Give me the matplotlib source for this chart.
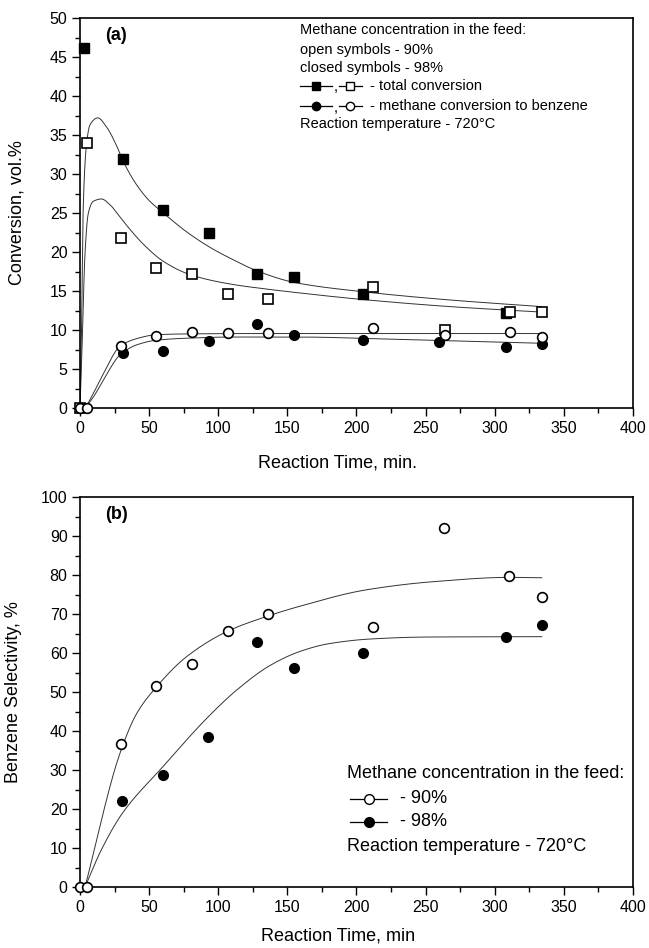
import numpy as np
import matplotlib
matplotlib.use("Agg")
import matplotlib.pyplot as plt
from matplotlib.ticker import MultipleLocator

plt.rcParams['font.family'] = ['Liberation Sans', 'DejaVu Sans']

# ---------------- (a) conversion vs time ----------------
t_tot98 = [3, 31, 60, 93, 128, 155, 205, 308]
tot98 = [46.1, 31.9, 25.4, 22.4, 17.2, 16.8, 14.6, 12.2]
t_tot90 = [0, 5, 30, 55, 81, 107, 136, 212, 264, 311, 334]
tot90 = [0, 34.0, 21.8, 18.0, 17.2, 14.6, 14.0, 15.5, 10.0, 12.3, 12.3]
t_bz90 = [0, 5, 30, 55, 81, 107, 136, 212, 264, 311, 334]
bz90 = [0, 0, 7.9, 9.2, 9.8, 9.6, 9.6, 10.3, 9.3, 9.7, 9.1]
t_bz98 = [31, 60, 93, 128, 155, 205, 260, 308, 334]
bz98 = [7.0, 7.3, 8.6, 10.8, 9.4, 8.7, 8.4, 7.8, 8.2]

# fitted trend lines (vertices)
fit_tot98_t = [0, 1.2, 2.4, 4.8, 7.2, 12.8, 19.3, 26.5, 31.3, 41, 50, 60.3, 77, 94,
               110.9, 127.8, 155, 205, 267.6, 334]
fit_tot98 = [0, 11.3, 26.3, 34.0, 36.3, 37.2, 36.0, 33.6, 31.6, 28.6, 26.6, 25.0, 22.6,
             20.6, 19.0, 17.6, 16.1, 14.9, 13.85, 13.0]
fit_tot90_t = [0, 1.5, 3.6, 6.0, 9.6, 15.5, 22, 28, 33.8, 45.8, 60.3, 79.6, 108.5,
               135, 159, 205, 267.6, 334]
fit_tot90 = [0, 8.0, 19.8, 25.0, 26.5, 26.8, 26.0, 24.7, 23.4, 21.0, 18.8, 17.1, 15.9,
             15.25, 14.75, 13.9, 13.0, 12.3]
fit_bz90_t = [4, 10, 16.9, 28.9, 41, 55.5, 77, 120, 200, 334]
fit_bz90 = [0, 2.0, 4.4, 7.9, 8.9, 9.4, 9.5, 9.55, 9.55, 9.55]
fit_bz98_t = [4, 10, 16.9, 28.9, 41, 55.5, 77, 110, 159, 220, 280, 334]
fit_bz98 = [0, 1.5, 3.6, 6.8, 8.1, 8.7, 8.95, 9.1, 9.1, 8.85, 8.55, 8.3]

# ---------------- (b) benzene selectivity ----------------
t_sel90 = [0, 5, 29.4, 55, 81, 106.8, 136, 211.7, 263.5, 310.6, 334]
sel90 = [0, 0, 36.8, 51.5, 57.1, 65.6, 69.9, 66.7, 92.1, 79.8, 74.4]
t_sel98 = [30.6, 59.8, 92.6, 128, 154.8, 204.5, 308, 334]
sel98 = [22.1, 28.7, 38.5, 62.8, 56.2, 60.1, 64.1, 67.2]

fit_sel90_t = [3.6, 28.9, 41, 55, 77.2, 106.8, 136, 159, 207, 255.6, 310.6, 334]
fit_sel90 = [0, 34.3, 44.5, 51.2, 59.1, 65.6, 69.5, 72.0, 76.2, 78.3, 79.4, 79.3]
fit_sel98_t = [3.6, 15.5, 30.6, 59.8, 92.6, 113.3, 137.4, 159, 180, 210, 250, 334]
fit_sel98 = [0, 9.6, 18.9, 30.8, 43.6, 50.5, 56.8, 60.4, 62.4, 63.6, 64.1, 64.2]


def pchip(xs, ys, n=600):
    """Shape-preserving piecewise cubic through the vertices (Fritsch-Carlson)."""
    x = np.asarray(xs, float)
    y = np.asarray(ys, float)
    h = np.diff(x)
    d = np.diff(y) / h
    m = np.zeros_like(x)
    for k in range(1, len(x) - 1):
        if d[k - 1] * d[k] > 0:
            w1 = 2 * h[k] + h[k - 1]
            w2 = h[k] + 2 * h[k - 1]
            m[k] = (w1 + w2) / (w1 / d[k - 1] + w2 / d[k])
    m[0] = d[0]
    m[-1] = d[-1]
    xx = np.linspace(x[0], x[-1], n)
    idx = np.clip(np.searchsorted(x, xx, side='right') - 1, 0, len(x) - 2)
    t = (xx - x[idx]) / h[idx]
    h00 = 2 * t ** 3 - 3 * t ** 2 + 1
    h10 = t ** 3 - 2 * t ** 2 + t
    h01 = -2 * t ** 3 + 3 * t ** 2
    h11 = t ** 3 - t ** 2
    yy = h00 * y[idx] + h10 * h[idx] * m[idx] + h01 * y[idx + 1] + h11 * h[idx] * m[idx + 1]
    return xx, yy


LINE = dict(color='#333333', lw=0.7, zorder=2)
MS_SQ = 6.6
MS_CI = 7.0
EW = 1.2

fig = plt.figure(figsize=(6.49, 9.48), dpi=100)
ax1 = fig.add_axes([0.1233, 0.5696, 0.852, 0.4114])
ax2 = fig.add_axes([0.1233, 0.0643, 0.852, 0.4114])

for ax in (ax1, ax2):
    ax.set_xlim(0, 400)
    ax.xaxis.set_major_locator(MultipleLocator(50))
    ax.xaxis.set_minor_locator(MultipleLocator(25))
    ax.tick_params(which='both', direction='out', top=False, right=False,
                   labelsize=11.5, width=1.0)
    ax.tick_params(which='major', length=6, pad=3)
    ax.tick_params(which='minor', length=3.5)
    for sp in ax.spines.values():
        sp.set_linewidth(1.2)

# panel (a)
for xs, ys in ((fit_tot98_t, fit_tot98), (fit_tot90_t, fit_tot90),
               (fit_bz90_t, fit_bz90), (fit_bz98_t, fit_bz98)):
    sx, sy = pchip(xs, ys)
    ax1.plot(sx, sy, **LINE)

ax1.plot(t_tot98, tot98, ls='none', marker='s', ms=MS_SQ, mfc='black', mec='black',
         zorder=3, clip_on=False)
ax1.plot(t_tot90, tot90, ls='none', marker='s', ms=MS_SQ, mfc='white', mec='black', mew=EW,
         zorder=3, clip_on=False)
ax1.plot(t_bz98, bz98, ls='none', marker='o', ms=MS_CI, mfc='black', mec='black',
         zorder=3, clip_on=False)
ax1.plot(t_bz90, bz90, ls='none', marker='o', ms=MS_CI, mfc='white', mec='black', mew=EW,
         zorder=3, clip_on=False)

ax1.set_ylim(0, 50)
ax1.yaxis.set_major_locator(MultipleLocator(5))
ax1.yaxis.set_minor_locator(MultipleLocator(2.5))
ax1.set_ylabel('Conversion, vol.%', fontsize=13)
ax1.set_xlabel('Reaction Time, min.', fontsize=13)
ax1.yaxis.set_label_coords(-0.098, 0.5)
ax1.xaxis.set_label_coords(0.466, -0.12)
ax1.text(0.045, 0.955, '(a)', transform=ax1.transAxes, fontsize=13, fontweight='bold',
         va='center', ha='left')

# key for panel (a)
T = ax1.transAxes
FS1 = 10.5
xk = 0.397
ax1.text(xk, 0.969, 'Methane concentration in the feed:', transform=T, fontsize=FS1, va='center')
ax1.text(xk, 0.918, 'open symbols - 90%', transform=T, fontsize=FS1, va='center')
ax1.text(xk, 0.872, 'closed symbols - 98%', transform=T, fontsize=FS1, va='center')
for yk, mk, label in ((0.826, 's', '- total conversion'),
                      (0.774, 'o', '- methane conversion to benzene')):
    ax1.plot([0.398, 0.456], [yk, yk], transform=T, color='black', lw=0.9, clip_on=False)
    ax1.plot([0.427], [yk], transform=T, marker=mk, ms=6, mfc='black', mec='black', clip_on=False)
    ax1.text(0.458, yk - 0.004, ',', transform=T, fontsize=FS1, va='center')
    ax1.plot([0.468, 0.510], [yk, yk], transform=T, color='black', lw=0.9, clip_on=False)
    ax1.plot([0.489], [yk], transform=T, marker=mk, ms=6, mfc='white', mec='black', mew=1.0,
             clip_on=False)
    ax1.text(0.525, yk, label, transform=T, fontsize=FS1, va='center')
ax1.text(xk, 0.728, 'Reaction temperature - 720°C', transform=T, fontsize=FS1, va='center')

# panel (b)
for xs, ys in ((fit_sel90_t, fit_sel90), (fit_sel98_t, fit_sel98)):
    sx, sy = pchip(xs, ys)
    ax2.plot(sx, sy, **LINE)
ax2.plot(t_sel98, sel98, ls='none', marker='o', ms=MS_CI, mfc='black', mec='black',
         zorder=3, clip_on=False)
ax2.plot(t_sel90, sel90, ls='none', marker='o', ms=MS_CI, mfc='white', mec='black', mew=EW,
         zorder=3, clip_on=False)

ax2.set_ylim(0, 100)
ax2.yaxis.set_major_locator(MultipleLocator(10))
ax2.yaxis.set_minor_locator(MultipleLocator(5))
ax2.set_ylabel('Benzene Selectivity, %', fontsize=13)
ax2.set_xlabel('Reaction Time, min', fontsize=13)
ax2.yaxis.set_label_coords(-0.105, 0.5)
ax2.xaxis.set_label_coords(0.466, -0.105)
ax2.text(0.045, 0.955, '(b)', transform=ax2.transAxes, fontsize=13, fontweight='bold',
         va='center', ha='left')

T2 = ax2.transAxes
FS2 = 13
ax2.text(0.483, 0.290, 'Methane concentration in the feed:', transform=T2, fontsize=FS2, va='center')
for yk, fill, label in ((0.226, 'white', '- 90%'), (0.167, 'black', '- 98%')):
    ax2.plot([0.488, 0.556], [yk, yk], transform=T2, color='black', lw=0.9, clip_on=False)
    ax2.plot([0.522], [yk], transform=T2, marker='o', ms=7, mfc=fill, mec='black', mew=1.0,
             clip_on=False)
    ax2.text(0.579, yk, label, transform=T2, fontsize=FS2, va='center')
ax2.text(0.483, 0.105, 'Reaction temperature - 720°C', transform=T2, fontsize=FS2, va='center')

fig.savefig('out.png', dpi=100)
